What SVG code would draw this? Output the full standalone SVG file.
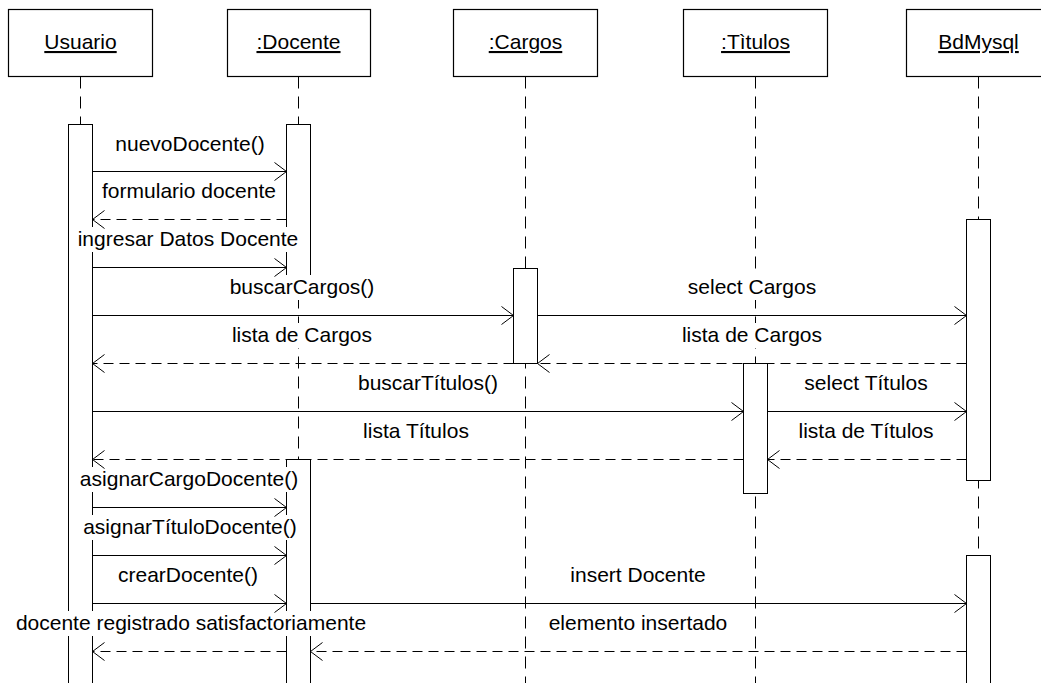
<svg xmlns="http://www.w3.org/2000/svg" width="1041" height="683" viewBox="0 0 1041 683">
<style>
.box{fill:#fff;stroke:#000;stroke-width:1.2}
.life{stroke:#000;stroke-width:1;stroke-dasharray:12 8;fill:none}
.act{fill:#fff;stroke:#000;stroke-width:1}
.hdr{font-family:"Liberation Sans",Arial,sans-serif;font-size:21px;fill:#000;text-anchor:middle;text-decoration:underline}
.lbl{font-family:"Liberation Sans",Arial,sans-serif;font-size:21px;fill:#000;text-anchor:middle}
.bg{fill:#fff;stroke:none}
.msg{stroke:#000;stroke-width:1;fill:none;marker-end:url(#arr)}
.ret{stroke:#000;stroke-width:1;fill:none;stroke-dasharray:10 6;marker-end:url(#arr)}
</style>
<defs>
<marker id="arr" markerUnits="userSpaceOnUse" viewBox="-14 -11 16 22" markerWidth="16" markerHeight="22" refX="0" refY="0" orient="auto" overflow="visible">
<path d="M-12,-9 L0,0 L-12,9" fill="none" stroke="#000" stroke-width="1" stroke-dasharray="none"/>
</marker>
</defs>
<rect width="1041" height="683" fill="#fff"/>
<g id="usuario">
<rect class="box" x="8.5" y="9.5" width="144" height="67"/>
<text class="hdr" x="80.5" y="49">Usuario</text>
<line class="life" x1="80.5" y1="76.5" x2="80.5" y2="683"/>
<rect class="act" x="68.5" y="124.5" width="24" height="600"/>
</g>
<g id="docente">
<rect class="box" x="227.5" y="9.5" width="143" height="67"/>
<text class="hdr" x="298.5" y="49">:Docente</text>
<line class="life" x1="298.5" y1="76.5" x2="298.5" y2="683"/>
<rect class="act" x="286.5" y="124.5" width="24" height="151"/>
<rect class="act" x="286.5" y="459.5" width="24" height="260"/>
</g>
<g id="cargos">
<rect class="box" x="453.5" y="9.5" width="144" height="67"/>
<text class="hdr" x="525.5" y="49">:Cargos</text>
<line class="life" x1="525.5" y1="76.5" x2="525.5" y2="683"/>
<rect class="act" x="513.5" y="268.5" width="24" height="95"/>
</g>
<g id="titulos">
<rect class="box" x="683.5" y="9.5" width="144" height="67"/>
<text class="hdr" x="755.5" y="49">:Tìtulos</text>
<line class="life" x1="755.5" y1="76.5" x2="755.5" y2="683"/>
<rect class="act" x="743.5" y="363.5" width="24" height="130"/>
</g>
<g id="bdmysql">
<rect class="box" x="906.5" y="9.5" width="144" height="67"/>
<text class="hdr" x="978.5" y="49">BdMysql</text>
<line class="life" x1="978.5" y1="76.5" x2="978.5" y2="683"/>
<rect class="act" x="966.5" y="219.5" width="24" height="261"/>
<rect class="act" x="966.5" y="555.5" width="24" height="160"/>
</g>
<g id="connectors">
<g id="label-bgs">
<rect class="bg" x="113" y="132" width="154" height="25"/>
<rect class="bg" x="100" y="179" width="178" height="25"/>
<rect class="bg" x="76" y="227" width="224" height="25"/>
<rect class="bg" x="228" y="275" width="148" height="25"/>
<rect class="bg" x="686" y="275" width="132" height="25"/>
<rect class="bg" x="680" y="323" width="144" height="25"/>
<rect class="bg" x="230" y="323" width="144" height="25"/>
<rect class="bg" x="356" y="371" width="144" height="25"/>
<rect class="bg" x="802" y="371" width="128" height="25"/>
<rect class="bg" x="796" y="419" width="140" height="25"/>
<rect class="bg" x="361" y="419" width="110" height="25"/>
<rect class="bg" x="78" y="467" width="222" height="25"/>
<rect class="bg" x="81" y="515" width="218" height="25"/>
<rect class="bg" x="116" y="563" width="144" height="25"/>
<rect class="bg" x="568" y="563" width="140" height="25"/>
<rect class="bg" x="547" y="611" width="183" height="25"/>
<rect class="bg" x="14" y="611" width="354" height="25"/>
</g>
<g id="labels">
<text class="lbl" x="190" y="151">nuevoDocente()</text>
<text class="lbl" x="189" y="198">formulario docente</text>
<text class="lbl" x="188" y="246">ingresar Datos Docente</text>
<text class="lbl" x="302" y="294">buscarCargos()</text>
<text class="lbl" x="752" y="294">select Cargos</text>
<text class="lbl" x="752" y="342">lista de Cargos</text>
<text class="lbl" x="302" y="342">lista de Cargos</text>
<text class="lbl" x="428" y="390">buscarTítulos()</text>
<text class="lbl" x="866" y="390">select Títulos</text>
<text class="lbl" x="866" y="438">lista de Títulos</text>
<text class="lbl" x="416" y="438">lista Títulos</text>
<text class="lbl" x="189" y="486">asignarCargoDocente()</text>
<text class="lbl" x="190" y="534">asignarTítuloDocente()</text>
<text class="lbl" x="188" y="582">crearDocente()</text>
<text class="lbl" x="638" y="582">insert Docente</text>
<text class="lbl" x="638" y="630">elemento insertado</text>
<text class="lbl" x="191" y="630">docente registrado satisfactoriamente</text>
</g>
<g id="messages">
<path class="msg" d="M92.5,171.5 H286.5"/>
<path class="ret" d="M286.5,219.5 H92.5"/>
<path class="msg" d="M92.5,267.5 H286.5"/>
<path class="msg" d="M92.5,315.5 H513.5"/>
<path class="msg" d="M537.5,315.5 H966.5"/>
<path class="ret" d="M966.5,363.5 H537.5"/>
<path class="ret" d="M513.5,363.5 H92.5"/>
<path class="msg" d="M92.5,411.5 H743.5"/>
<path class="msg" d="M767.5,411.5 H966.5"/>
<path class="ret" d="M966.5,459.5 H767.5"/>
<path class="ret" d="M743.5,459.5 H92.5"/>
<path class="msg" d="M92.5,507.5 H286.5"/>
<path class="msg" d="M92.5,555.5 H286.5"/>
<path class="msg" d="M92.5,603.5 H286.5"/>
<path class="msg" d="M310.5,603.5 H966.5"/>
<path class="ret" d="M966.5,651.5 H310.5"/>
<path class="ret" d="M286.5,651.5 H92.5"/>
</g>
</g>
</svg>
